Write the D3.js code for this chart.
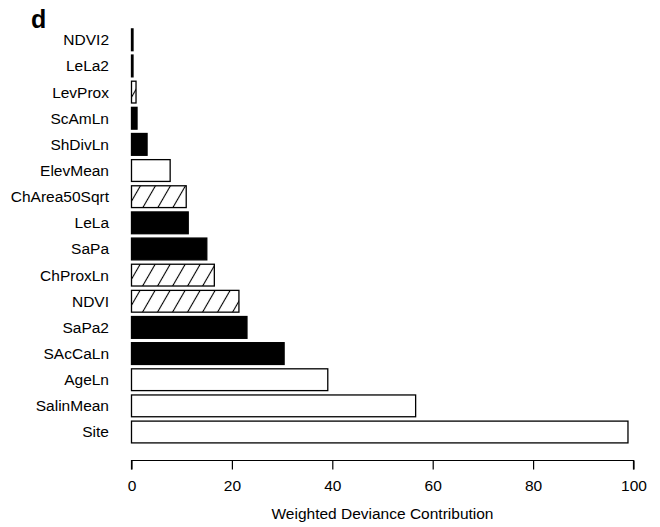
<!DOCTYPE html>
<html>
<head>
<meta charset="utf-8">
<script src="https://cdn.jsdelivr.net/npm/d3@7"></script>
<style>
  body { margin: 0; background: #fff; }
  text { font-family: "Liberation Sans", Arial, sans-serif; fill: #000; }
</style>
</head>
<body>
<svg width="660" height="527"></svg>
<script>
// variables, top to bottom
var names = ["NDVI2", "LeLa2", "LevProx", "ScAmLn", "ShDivLn", "ElevMean", "ChArea50Sqrt",
             "LeLa", "SaPa", "ChProxLn", "NDVI", "SaPa2", "SAcCaLn", "AgeLn", "SalinMean", "Site"];
var values = [0.3, 0.3, 0.9, 1.1, 3.1, 7.7, 10.9, 11.3, 15.0, 16.5, 21.4, 23.0, 30.4, 39.1, 56.6, 98.9];
// fill style: "black", "open", "hatch"
var kinds = ["black", "black", "hatch", "black", "black", "open", "hatch",
             "black", "black", "hatch", "hatch", "black", "black", "open", "open", "open"];
var xTicks = [0, 20, 40, 60, 80, 100];

var svg = d3.select("svg"),
    fontSize = 15.5;

var x = d3.scaleLinear().domain([0, 100]).range([131.5, 633.5]);
var y = d3.scaleBand().domain(names).range([28.9, 442.9]).paddingInner(1 / 6).paddingOuter(0);

// hatch pattern, lines like "/" at about 60 degrees
var defs = svg.append("defs");
var pat = defs.append("pattern")
    .attr("id", "hatch")
    .attr("patternUnits", "userSpaceOnUse")
    .attr("width", 13)
    .attr("height", 13)
    .attr("patternTransform", "rotate(30)");
pat.append("rect").attr("width", 13).attr("height", 13).attr("fill", "#fff");
pat.append("line")
    .attr("x1", 6.5).attr("y1", 0)
    .attr("x2", 6.5).attr("y2", 13)
    .attr("stroke", "#000")
    .attr("stroke-width", 1.1);

function fillFor(k) {
  if (k == "black") return "#000";
  if (k == "hatch") return "url(#hatch)";
  return "#fff";
}

svg.append("g")
  .selectAll("rect")
  .data(names)
  .enter()
  .append("rect")
    .attr("x", x(0))
    .attr("y", function(d) { return y(d); })
    .attr("width", function(d, i) { return x(values[i]) - x(0); })
    .attr("height", y.bandwidth())
    .attr("fill", function(d, i) { return fillFor(kinds[i]); })
    .attr("stroke", "#000")
    .attr("stroke-width", 1.3);

// category labels
svg.append("g")
  .selectAll("text")
  .data(names)
  .enter()
  .append("text")
    .attr("x", 109)
    .attr("y", function(d) { return y(d) + y.bandwidth() / 2; })
    .attr("dy", "0.35em")
    .attr("text-anchor", "end")
    .attr("font-size", fontSize)
    .text(function(d) { return d; });

// x axis, R style: separate line below bars
var xAxis = d3.axisBottom(x).tickValues(xTicks).tickSize(9).tickPadding(10).tickFormat(d3.format("d"));
var gx = svg.append("g")
    .attr("transform", "translate(0,460.5)")
    .call(xAxis);
gx.select(".domain").attr("stroke-width", 1.2).attr("d", "M" + x(0) + ",9V0H" + x(100) + "V9");
gx.selectAll(".tick line").attr("stroke-width", 1.2);
gx.selectAll(".tick text")
    .attr("font-size", fontSize)
    .attr("font-family", "'Liberation Sans', Arial, sans-serif");

svg.append("text")
    .attr("x", (x(0) + x(100)) / 2)
    .attr("y", 519)
    .attr("text-anchor", "middle")
    .attr("font-size", fontSize)
    .text("Weighted Deviance Contribution");

// panel letter
svg.append("text")
    .attr("x", 31)
    .attr("y", 28)
    .attr("font-size", 25)
    .attr("font-weight", "bold")
    .text("d");
</script>
</body>
</html>
